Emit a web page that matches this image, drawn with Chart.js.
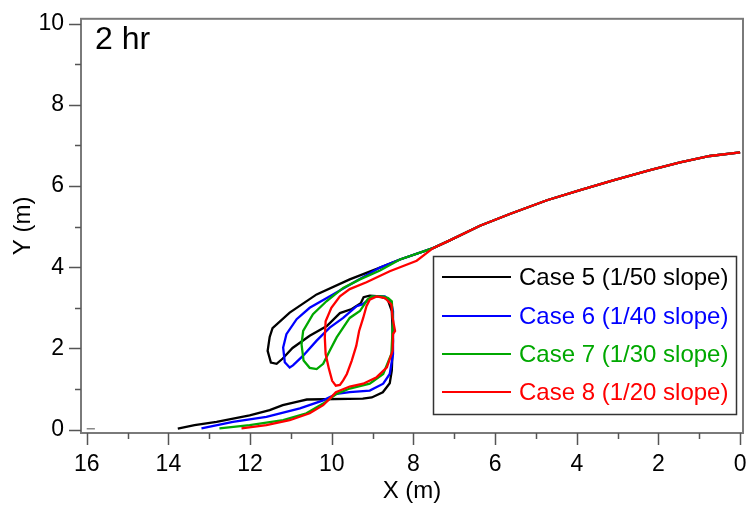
<!DOCTYPE html>
<html>
<head>
<meta charset="utf-8">
<script src="https://cdn.jsdelivr.net/npm/chart.js@4.4.1/dist/chart.umd.min.js"></script>
<style>
html,body{margin:0;padding:0;background:#fff;}
#wrap{width:750px;height:506px;}
</style>
</head>
<body>
<div id="wrap"><canvas id="myChart" width="750" height="506"></canvas></div>
<script>
// shoreline profiles after 2 hr, one per beach slope
const caseLabels=["Case 5 (1/50 slope)","Case 6 (1/40 slope)","Case 7 (1/30 slope)","Case 8 (1/20 slope)"];
const caseColors=["#000000","#0000ff","#00a800","#ff0000"];

// lower part of each curve, starting at the tip near the shore
const case5X=[13.77,13.36,12.82,12.01,11.52,11.20,10.78,10.61,9.24,9.02,8.75,8.58,8.53,8.50,8.53,8.63,8.82,9.07,9.22,9.29,9.51,9.80,10.12,10.54,10.96,11.20,11.35,11.49,11.57,11.52,11.45,11.03,10.37,9.56];
const case5Y=[0.02,0.11,0.19,0.35,0.48,0.60,0.70,0.74,0.76,0.79,0.92,1.14,1.45,2.19,2.92,3.21,3.28,3.30,3.26,3.11,2.97,2.87,2.55,2.31,2.01,1.75,1.62,1.65,1.94,2.28,2.50,2.88,3.33,3.70];

const case6X=[13.19,12.42,11.60,10.78,10.21,9.88,9.56,9.07,8.74,8.58,8.50,8.50,8.55,8.70,9.00,9.24,9.39,9.72,10.05,10.37,10.70,10.95,11.03,11.15,11.19,11.11,10.86,10.54,9.97,9.56];
const case6Y=[0.03,0.19,0.31,0.52,0.72,0.88,0.92,0.96,1.13,1.37,1.86,2.92,3.16,3.28,3.28,3.09,3.04,2.75,2.51,2.19,1.82,1.58,1.53,1.66,2.02,2.35,2.72,3.00,3.33,3.57];

const case7X=[12.75,12.01,11.19,10.62,10.21,9.88,9.56,9.07,8.74,8.54,8.50,8.53,8.62,8.75,9.02,9.12,9.31,9.56,9.88,10.05,10.21,10.37,10.54,10.69,10.74,10.70,10.46,10.13,9.72,9.31,8.82];
const case7Y=[0.03,0.11,0.23,0.40,0.64,0.88,1.01,1.13,1.37,1.86,2.67,3.16,3.24,3.28,3.28,3.21,2.92,2.75,2.27,1.94,1.62,1.49,1.52,1.70,2.10,2.43,2.84,3.16,3.49,3.70,3.92];

const case8X=[12.21,11.60,11.03,10.54,10.21,10.01,9.90,9.56,9.23,8.90,8.65,8.51,8.50,8.45,8.51,8.54,8.70,8.90,9.07,9.15,9.23,9.33,9.40,9.51,9.63,9.72,9.80,9.90,9.99,10.07,10.15,10.17,10.15,10.01,9.80,9.56,9.15,8.58,7.92];
const case8Y=[0.03,0.11,0.23,0.40,0.60,0.80,0.92,1.06,1.13,1.29,1.53,1.94,2.35,2.43,2.75,3.08,3.24,3.28,3.20,3.04,2.75,2.43,2.06,1.70,1.37,1.21,1.10,1.08,1.20,1.50,1.86,2.27,2.67,3.00,3.28,3.46,3.63,3.90,4.16];

// offshore part that all four cases share
const upperX=[8.82,8.33,7.52,7.11,6.37,5.64,4.73,3.92,3.11,2.21,1.47,0.74,0.00];
const upperY=[3.99,4.19,4.47,4.66,5.02,5.31,5.65,5.90,6.14,6.39,6.58,6.74,6.83];
const joinAt=[0,0,1,2];

// little mark at the left end of the zero line
const dashX=[16.0,15.8];
const dashY=[0.02,0.02];

const xTicks=[0,2,4,6,8,10,12,14,16];
const yTicks=[0,2,4,6,8,10];

const toPoints=(xs,ys)=>xs.map((x,i)=>({x:x,y:ys[i]}));

const lowerX=[case5X,case6X,case7X,case8X];
const lowerY=[case5Y,case6Y,case7Y,case8Y];

const datasets=caseLabels.map((label,i)=>({
    label:label,
    data:toPoints(lowerX[i].concat(upperX.slice(joinAt[i])),lowerY[i].concat(upperY.slice(joinAt[i]))),
    borderColor:caseColors[i],
    borderWidth:2.3,
    order:4-i
}));
datasets.push({label:"",data:toPoints(dashX,dashY),borderColor:"#888888",borderWidth:1.5,order:5});

const FONT="'Liberation Sans', Arial, sans-serif";

const decorPlugin={
    id:"decor",
    afterDatasetsDraw(chart){
        const ctx=chart.ctx;
        const a=chart.chartArea;
        const xs=chart.scales.x, ys=chart.scales.y;
        ctx.save();
        // frame
        ctx.strokeStyle="#7a7a7a";
        ctx.lineWidth=2;
        ctx.strokeRect(a.left,a.top,a.right-a.left,a.bottom-a.top);
        // tick marks, long on even values
        ctx.strokeStyle="#555";
        ctx.lineWidth=1.5;
        ctx.beginPath();
        for(let v=0;v<=16;v++){
            const px=Math.round(xs.getPixelForValue(v))+0.5;
            const len=v%2===0?12:6;
            ctx.moveTo(px,a.bottom);
            ctx.lineTo(px,a.bottom+len);
        }
        for(let v=0;v<=10;v++){
            const py=Math.round(ys.getPixelForValue(v))+0.5;
            const len=v%2===0?12:6;
            ctx.moveTo(a.left,py);
            ctx.lineTo(a.left-len,py);
        }
        ctx.stroke();
        // time label
        ctx.fillStyle="#000";
        ctx.font="32px "+FONT;
        ctx.textBaseline="alphabetic";
        ctx.textAlign="left";
        ctx.fillText("2 hr",95,49);
        // legend
        const box={x:433.5,y:256.5,w:303,h:158};
        ctx.fillStyle="#fff";
        ctx.fillRect(box.x,box.y,box.w,box.h);
        ctx.strokeStyle="#333";
        ctx.lineWidth=1.5;
        ctx.strokeRect(box.x,box.y,box.w,box.h);
        ctx.font="24px "+FONT;
        ctx.textBaseline="middle";
        const rows=[277,316,354,392];
        caseLabels.forEach((label,i)=>{
            ctx.strokeStyle=caseColors[i];
            ctx.lineWidth=2;
            ctx.beginPath();
            ctx.moveTo(442,rows[i]);
            ctx.lineTo(511,rows[i]);
            ctx.stroke();
            ctx.fillStyle=caseColors[i];
            ctx.fillText(label,519,rows[i]+1);
        });
        ctx.restore();
    }
};

const ctx=document.getElementById("myChart").getContext("2d");
const myChart=new Chart(ctx,{
    type:"scatter",
    data:{datasets:datasets},
    options:{
        responsive:false,
        animation:false,
        showLine:true,
        elements:{point:{radius:0,hoverRadius:0},line:{tension:0,fill:false}},
        layout:{padding:{top:15,right:7,left:0,bottom:0}},
        plugins:{legend:{display:false},tooltip:{enabled:false}},
        scales:{
            x:{
                type:"linear",
                reverse:true,
                min:-0.07,
                max:16.14,
                afterBuildTicks:(scale)=>{scale.ticks=xTicks.map(v=>({value:v}));},
                afterFit:(scale)=>{scale.height=73;},
                grid:{drawOnChartArea:false,drawTicks:true,tickLength:12,color:"rgba(0,0,0,0)"},
                border:{display:false},
                ticks:{autoSkip:false,maxRotation:0,padding:6,color:"#000",font:{family:FONT,size:23}},
                title:{display:true,text:"X (m)",color:"#000",font:{family:FONT,size:24},padding:{top:0,bottom:0}}
            },
            y:{
                type:"linear",
                min:-0.085,
                max:10.12,
                afterBuildTicks:(scale)=>{scale.ticks=yTicks.map(v=>({value:v}));},
                afterFit:(scale)=>{scale.width=81;},
                grid:{drawOnChartArea:false,drawTicks:true,tickLength:12,color:"rgba(0,0,0,0)"},
                border:{display:false},
                ticks:{autoSkip:false,padding:5,color:"#000",font:{family:FONT,size:23}},
                title:{display:true,text:"Y (m)",color:"#000",font:{family:FONT,size:24},padding:{top:9,bottom:0}}
            }
        }
    },
    plugins:[decorPlugin]
});
</script>
</body>
</html>
